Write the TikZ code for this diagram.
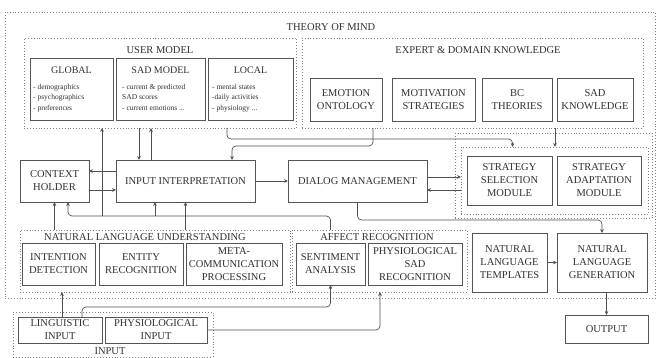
\documentclass[tikz,border=0pt]{standalone}
\usepackage{fontspec}
\setmainfont{Liberation Serif}
\usetikzlibrary{arrows.meta,positioning,calc}
\definecolor{boxline}{HTML}{555555}
\definecolor{dotline}{HTML}{808080}
\definecolor{graytext}{HTML}{303030}
\definecolor{wire}{HTML}{505050}
\tikzset{
  grouplabel/.style={font=\fontsize{10.5}{12}\selectfont,text=graytext,inner sep=0pt},
  group/.style={draw=dotline,dotted,line width=0.9pt,inner sep=0pt,outer sep=0pt},
  box/.style={draw=boxline,line width=0.8pt,fill=white,align=center,inner sep=1pt,outer sep=0pt,font=\fontsize{10.5}{13}\selectfont,text=graytext},
  umtitle/.style={font=\fontsize{10}{12}\selectfont,text=graytext,inner sep=0pt},
  bullets/.style={font=\fontsize{7.5}{10.5}\selectfont,text=graytext,align=left,inner sep=0pt,anchor=north west},
  arr/.style={-{Stealth[length=4pt,width=3.6pt]},draw=wire,line width=0.7pt,rounded corners=4pt}
}

\begin{document}
\begin{tikzpicture}[x=1pt,y=-1pt]
\path[use as bounding box] (0,0) rectangle (660,358);
\node[group,minimum width=650pt,minimum height=286pt] (tom) at (330,155) {};
\node[grouplabel] at (331,27) {THEORY OF MIND};
\node[group,minimum width=272pt,minimum height=90pt] (usermodel) at (160,83) {};
\node[grouplabel] at (160,50) {USER MODEL};
\node[box,minimum width=83pt,minimum height=62pt] (global) at (71.5,89) {}; \node[box,minimum width=89pt,minimum height=62pt] (sadmodel) at (160.5,89) {}; \node[box,minimum width=85pt,minimum height=62pt] (local) at (250.5,89) {};
\node[umtitle] at (71.5,70) {GLOBAL}; \node[umtitle] at (160.5,70) {SAD MODEL}; \node[umtitle] at (250.5,70) {LOCAL};
\node[bullets] at (33,84) {- demographics\\- psychographics\\- preferences};
\node[bullets] at (122,84) {- current \& predicted\\SAD scores\\- current emotions ...};
\node[bullets] at (212,84) {- mental states\\-daily activities\\- physiology ...};
\node[group,minimum width=341pt,minimum height=90pt] (expert) at (472.5,83) {};
\node[grouplabel] at (478,50) {EXPERT \& DOMAIN KNOWLEDGE};
\node[box,minimum width=72pt,minimum height=43pt] (emotion) at (346,99.5) {EMOTION\\ONTOLOGY};
\node[box,minimum width=83pt,minimum height=43pt] (motivation) at (433.5,99.5) {MOTIVATION\\STRATEGIES};
\node[box,minimum width=70pt,minimum height=43pt] (bctheories) at (517,99.5) {BC\\THEORIES};
\node[box,minimum width=76pt,minimum height=43pt] (sadknow) at (595,99.5) {SAD\\KNOWLEDGE};
\node[box,minimum width=69pt,minimum height=42pt] (context) at (54.5,181) {CONTEXT\\HOLDER};
\node[box,minimum width=139pt,minimum height=42pt] (interp) at (185.5,181) {INPUT INTERPRETATION};
\node[box,minimum width=139pt,minimum height=42pt] (dialog) at (357.5,181) {DIALOG MANAGEMENT};
\node[group,minimum width=197pt,minimum height=85pt] (stratout) at (553.5,176) {};
\node[group,minimum width=187pt,minimum height=67pt] (stratin) at (554.5,180.5) {};
\node[box,minimum width=85pt,minimum height=49pt] (stratsel) at (509.5,180.5) {STRATEGY\\SELECTION\\MODULE};
\node[box,minimum width=84pt,minimum height=49pt] (stratada) at (599,180.5) {STRATEGY\\ADAPTATION\\MODULE};
\node[group,minimum width=270pt,minimum height=62pt] (nlu) at (155,261) {};
\node[grouplabel] at (145,237) {NATURAL LANGUAGE UNDERSTANDING};
\node[box,minimum width=73pt,minimum height=42pt] (intention) at (58.5,264) {INTENTION\\DETECTION};
\node[box,minimum width=84pt,minimum height=42pt] (entity) at (141,264) {ENTITY\\RECOGNITION};
\node[box,minimum width=96pt,minimum height=42pt] (meta) at (234,264) {META-\\COMMUNICATION\\PROCESSING};
\node[group,minimum width=175pt,minimum height=62pt] (affect) at (379.5,261) {};
\node[grouplabel] at (377,237) {AFFECT RECOGNITION};
\node[box,minimum width=69pt,minimum height=42pt] (sentiment) at (330.5,264) {SENTIMENT\\ANALYSIS};
\node[box,minimum width=94pt,minimum height=42pt] (physrec) at (415,264) {PHYSIOLOGICAL\\SAD\\RECOGNITION};
\node[box,minimum width=75pt,minimum height=59pt] (templates) at (509.5,262.5) {NATURAL\\LANGUAGE\\TEMPLATES};
\node[box,minimum width=90pt,minimum height=59pt] (generation) at (602,262.5) {NATURAL\\LANGUAGE\\GENERATION};
\node[box,minimum width=83pt,minimum height=28pt] (output) at (606.5,329) {OUTPUT};
\node[group,minimum width=200pt,minimum height=45pt] (input) at (113,334.5) {};
\node[grouplabel] at (110,351) {INPUT};
\node[box,minimum width=84pt,minimum height=26pt] (linguistic) at (60,330) {LINGUISTIC\\INPUT};
\node[box,minimum width=102pt,minimum height=26pt] (physinput) at (156,330) {PHYSIOLOGICAL\\INPUT};
\coordinate (busA) at (102,216); \coordinate (busB) at (155,216);
\draw[arr] (sentiment.north |- affect.north) -- ++(0,-14) -| ([xshift=13.5]context.south);
\draw[arr] (busA) -- (busA |- usermodel.south); \draw[arr] (busB) -- (busB |- interp.south);
\draw[arr] (context.south |- nlu.north) -- (context.south); \draw[arr] (interp.south |- nlu.north) -- (interp.south);
\draw[arr] ([xshift=-46.5]interp.north |- usermodel.south) -- ([xshift=-46.5]interp.north);
\draw[arr] ([xshift=-34.5]interp.north) -- ([xshift=-34.5]interp.north |- usermodel.south);
\draw[arr] ([yshift=10]interp.west) -- ([yshift=10]interp.west -| context.east);
\draw[arr] ([yshift=-9]context.east) -- ([yshift=-9]context.east -| interp.west);
\draw[arr] (interp) -- (dialog);
\draw[arr] ([xshift=67]usermodel.south) -- ++(0,11) -| ([xshift=3]stratsel.north |- stratin.north);
\draw[arr] ([xshift=-99.5]expert.south) -- ++(0,18) -| ([xshift=46.5]interp.north);
\draw[arr] ([xshift=82.5]expert.south) -- ([xshift=82.5]expert.south |- stratin.north);
\draw[arr] ([yshift=4]dialog.east) -- ([yshift=4]dialog.east -| stratin.west);
\draw[arr] ([yshift=-9]dialog.east -| stratin.west) -- ([yshift=-9]dialog.east);
\draw[arr] (dialog.south) -- ++(0,18) -| (generation.north);
\draw[arr] (templates) -- (generation);
\draw[arr] (output.north |- generation.south) -- (output.north);
\draw[arr] ([xshift=2]linguistic.north) -- ([xshift=2]linguistic.north |- nlu.south);
\draw[arr] ([xshift=22]linguistic.north) -- ++(0,-10) -| (sentiment.south);
\draw[arr] (physinput.east) -| ([xshift=-35]physrec.south |- affect.south);
\end{tikzpicture}
\end{document}
